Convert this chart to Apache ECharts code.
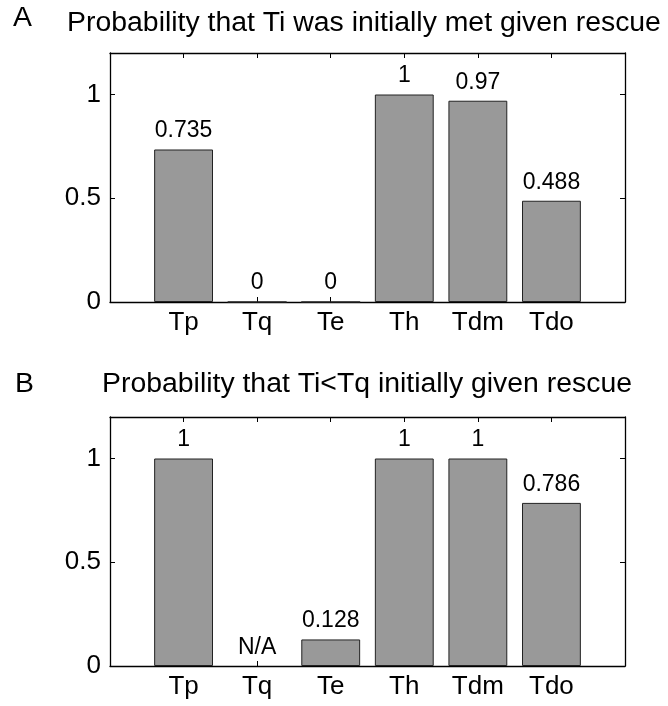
<!DOCTYPE html>
<html>
<head>
<meta charset="utf-8">
<script src="https://cdn.jsdelivr.net/npm/echarts@6/dist/echarts.min.js"></script>
<style>
  html, body { margin: 0; padding: 0; background: #fff; }
  #chart { width: 668px; height: 706px; }
</style>
</head>
<body>
<div id="chart"></div>
<script>
// Threshold categories shared by both panels
const categories = ['Tp', 'Tq', 'Te', 'Th', 'Tdm', 'Tdo'];
// Panel A: probability that Ti was initially met given rescue
const metGivenRescue = [0.735, 0, 0, 1, 0.97, 0.488];
// Panel B: probability that Ti<Tq initially given rescue (null = not applicable)
const belowTqGivenRescue = [1, null, 0.128, 1, 1, 0.786];
// Y-axis range and ticks
const yMin = 0, yMax = 1.2, yStep = 0.5;

const FONT = "'Liberation Sans', Arial, Helvetica, sans-serif";
// Pad the category axis so categories sit at 1..6 inside a 0..7 range
const axisCats = [''].concat(categories, ['']);

function xAxes(gridIndex) {
  const common = {
    type: 'category', gridIndex, data: axisCats, boundaryGap: false,
    axisLine: { show: true, onZero: false, lineStyle: { color: '#000', width: 1.3 } },
    axisTick: { show: true, inside: true, length: 5, alignWithLabel: true,
                lineStyle: { color: '#000', width: 1 } },
    splitLine: { show: false }
  };
  return [
    Object.assign({}, common, {
      position: 'bottom',
      axisLabel: { show: true, color: '#000', fontFamily: FONT, fontSize: 26, margin: 8,
                   interval: 0 }
    }),
    Object.assign({}, common, { position: 'top', axisLabel: { show: false } })
  ];
}

function yAxes(gridIndex) {
  const common = {
    type: 'value', gridIndex, min: yMin, max: yMax, interval: yStep,
    axisLine: { show: true, onZero: false, lineStyle: { color: '#000', width: 1.3 } },
    axisTick: { show: true, inside: true, length: 5, lineStyle: { color: '#000', width: 1 } },
    splitLine: { show: false }
  };
  return [
    Object.assign({}, common, {
      position: 'left',
      axisLabel: { show: true, color: '#000', fontFamily: FONT, fontSize: 26, margin: 9,
                   showMaxLabel: false }
    }),
    Object.assign({}, common, { position: 'right', axisLabel: { show: false } })
  ];
}

function barSeries(values, xi, yi) {
  return {
    type: 'bar', xAxisIndex: xi, yAxisIndex: yi, barWidth: '80%',
    data: [null].concat(values.map(v => v === null ? null : v), [null]),
    itemStyle: { color: '#999999', borderColor: '#222', borderWidth: 1 },
    label: { show: true, position: 'top', distance: 7, color: '#000',
             fontFamily: FONT, fontSize: 23,
             formatter: p => String(p.value) },
    silent: true
  };
}

// Text marker for categories with no defined value
function naSeries(values, xi, yi) {
  const pts = [];
  values.forEach((v, i) => { if (v === null) pts.push([i + 1, 0]); });
  return {
    type: 'scatter', xAxisIndex: xi, yAxisIndex: yi, symbolSize: 0,
    data: pts,
    itemStyle: { opacity: 1 },
    label: { show: true, position: 'top', distance: 7, color: '#000',
             fontFamily: FONT, fontSize: 23, formatter: 'N/A' },
    silent: true
  };
}

const titleStyle = { fontFamily: FONT, fontSize: 28.4, fontWeight: 'normal', color: '#000' };

const option = {
  animation: false,
  backgroundColor: '#fff',
  title: [
    { text: 'A', left: 13, top: 4, padding: 0, textStyle: titleStyle },
    { text: 'Probability that Ti was initially met given rescue', left: 364, textAlign: 'center',
      top: 9, padding: 0, textStyle: titleStyle },
    { text: 'B', left: 15, top: 370, padding: 0, textStyle: titleStyle },
    { text: 'Probability that Ti<Tq initially given rescue', left: 367, textAlign: 'center',
      top: 370, padding: 0, textStyle: titleStyle }
  ],
  grid: [
    { left: 110, right: 43, top: 53, height: 249, containLabel: false },
    { left: 110, right: 43, top: 417, height: 249, containLabel: false }
  ],
  xAxis: xAxes(0).concat(xAxes(1)),
  yAxis: yAxes(0).concat(yAxes(1)),
  series: [
    barSeries(metGivenRescue, 0, 0),
    barSeries(belowTqGivenRescue, 2, 2),
    naSeries(belowTqGivenRescue, 2, 2)
  ]
};

const chart = echarts.init(document.getElementById('chart'), null, { renderer: 'canvas' });
chart.setOption(option);
</script>
</body>
</html>
